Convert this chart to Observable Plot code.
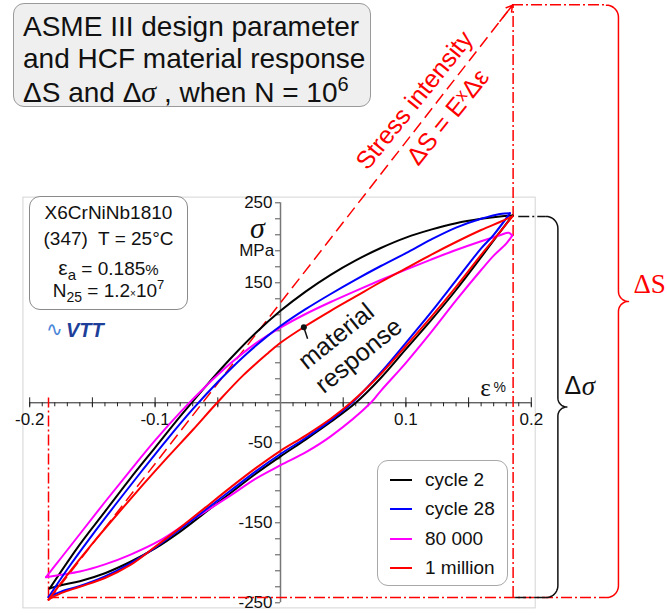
<!DOCTYPE html>
<html><head><meta charset="utf-8">
<script src="https://cdn.jsdelivr.net/npm/d3@7"></script>
<script src="https://cdn.jsdelivr.net/npm/@observablehq/plot@0.6"></script>
<style>
body{margin:0;background:#fff;font-family:"Liberation Sans",Arial,sans-serif;color:#111}
#wrap{position:relative;width:667px;height:615px;overflow:hidden}
#wrap svg{position:absolute;left:0;top:0}
.box{position:absolute;box-sizing:border-box;border:1.5px solid #999;border-radius:11px;background:#fff}
.ln{position:absolute;white-space:nowrap;line-height:1}
sub,sup{line-height:0;font-size:68%}
</style></head>
<body><div id="wrap"></div>
<script>
// ---- data (strain in %, stress in MPa) ----
const seriesNames = ["cycle 2", "cycle 28", "80 000", "1 million"];
const seriesColors = ["#000000", "#0000ff", "#ff00ff", "#ff0000"];

const cycle2Upper = [[-0.184,-232],[-0.16,-177],[-0.14,-136],[-0.12,-95],[-0.10,-56],[-0.08,-17],[-0.06,20],[-0.04,55],[-0.02,87],[0,115],[0.02,139],[0.04,160],[0.06,178],[0.08,193.5],[0.10,206.5],[0.12,216.5],[0.14,224.5],[0.16,230],[0.175,233],[0.185,234]];
const cycle2Lower = [[-0.184,-232],[-0.175,-228],[-0.16,-223],[-0.14,-213],[-0.12,-199],[-0.10,-182],[-0.08,-161],[-0.06,-137],[-0.04,-113],[-0.02,-89],[0,-67],[0.02,-46],[0.04,-24],[0.06,0],[0.08,31],[0.10,67],[0.12,103],[0.14,141],[0.16,182],[0.17,203],[0.185,234]];
const cycle28Upper = [[-0.185,-243],[-0.17,-208],[-0.15,-165],[-0.13,-124],[-0.11,-84],[-0.09,-45],[-0.07,-8],[-0.05,26],[-0.03,57],[-0.01,84],[0,96],[0.02,117],[0.04,136],[0.06,154],[0.08,171],[0.10,187],[0.12,204],[0.14,219],[0.16,230],[0.175,236],[0.183,237]];
const cycle28Lower = [[-0.185,-243],[-0.175,-236],[-0.16,-229],[-0.14,-217],[-0.12,-201],[-0.10,-181],[-0.08,-158],[-0.06,-134],[-0.04,-110],[-0.02,-86],[0,-64],[0.02,-44],[0.04,-22],[0.057,0],[0.08,38],[0.10,75],[0.12,113],[0.14,153],[0.16,193],[0.17,210],[0.183,237]];
const n80kUpper = [[-0.187,-218],[-0.175,-194],[-0.16,-164],[-0.14,-124],[-0.12,-85],[-0.10,-47],[-0.08,-12],[-0.06,20],[-0.04,49],[-0.02,74],[0,94],[0.02,111],[0.04,126],[0.06,140],[0.08,153.5],[0.10,166.5],[0.12,179],[0.14,191],[0.16,202],[0.175,209.5],[0.182,212.5],[0.1848,209]];
const n80kLower = [[-0.187,-218],[-0.175,-215],[-0.16,-211],[-0.14,-202],[-0.12,-190],[-0.096,-172],[-0.08,-156],[-0.06,-136],[-0.04,-116],[-0.02,-95],[0,-78],[0.02,-62],[0.04,-42],[0.072,0],[0.08,15],[0.10,50],[0.12,88],[0.14,128],[0.16,166],[0.17,184],[0.18,199],[0.1848,209]];
const millionUpper = [[-0.185,-246],[-0.17,-215],[-0.15,-176],[-0.13,-139],[-0.11,-103],[-0.09,-68],[-0.07,-34],[-0.05,1],[-0.03,34],[-0.01,62],[0,75],[0.02,96],[0.04,115],[0.06,133],[0.08,151],[0.10,168],[0.12,185],[0.14,201],[0.16,216],[0.175,226],[0.185,233]];
const millionLower = [[-0.185,-246],[-0.175,-238],[-0.16,-230],[-0.14,-219],[-0.12,-203],[-0.10,-180],[-0.08,-156],[-0.06,-131],[-0.04,-106],[-0.02,-82],[0,-60],[0.02,-41],[0.04,-20],[0.056,0],[0.08,36],[0.10,71],[0.12,107],[0.14,145],[0.16,185],[0.17,204],[0.185,233]];

const xTickLabels = [-0.2, -0.1, 0.1, 0.2];
const xMajorTicks = [-0.2, -0.15, -0.1, -0.05, 0.05, 0.1, 0.15, 0.2];
const yTickLabels = [250, 150, -50, -150, -250];

const strainAmp = 0.185;        // %
const stressRangeTop = 233;     // sigma max, MPa
const stressRangeBottom = -243.5;
const deltaSTop = 497;          // E x strain range line end, MPa
const deltaSBottom = -247;

// ---- build table ----
const loops = [
  [seriesNames[0], cycle2Upper, cycle2Lower],
  [seriesNames[2], n80kUpper, n80kLower],
  [seriesNames[1], cycle28Upper, cycle28Lower],
  [seriesNames[3], millionUpper, millionLower]
];
const rows = [];
for (const [name, up, lo] of loops) {
  for (const [x, y] of up) rows.push({series: name, key: name + "u", x, y});
  for (const [x, y] of lo) rows.push({series: name, key: name + "l", x, y});
}

// ---- scales: pixel geometry of the original ----
const W = 667, H = 615;
const X0 = -280/1254, X1 = (W-280)/1254;
const Y0 = (402.3-H)/0.8, Y1 = 402.3/0.8;
const PX = 1/1254, PY = 1/0.8; // data units per pixel

function brace(xv, yTop, yBot, rc, rm) {
  const pts = [];
  const mid = (yTop + yBot) / 2;
  const arc = (cx, cy, r, a0, a1) => {
    for (let k = 0; k <= 10; k++) {
      const a = (a0 + (a1 - a0) * k / 10) * Math.PI / 180;
      pts.push([cx + r * PX * Math.cos(a), cy + r * PY * Math.sin(a)]);
    }
  };
  arc(xv - rc*PX, yTop - rc*PY, rc, 90, 0);
  arc(xv + rm*PX, mid + rm*PY, rm, 180, 270);
  arc(xv + rm*PX, mid - rm*PY, rm, 90, 180);
  arc(xv - rc*PX, yBot + rc*PY, rc, 0, -90);
  return pts;
}
const braceS = brace(0.2695, deltaSTop, stressRangeBottom, 12, 10);
const braceSig = brace(0.2212, stressRangeTop, stressRangeBottom, 12, 9);

const sans = "Liberation Sans, Arial, sans-serif";
const serif = "Liberation Serif, Times New Roman, serif";
const dashDot = "11,3,2,3";
const red = "#ff0000";

const xMinor = d3.range(-20, 21).map(i => i / 100).filter(v => Math.abs(v) > 1e-9);
const yMinor = d3.range(0, 26).map(i => 250 - 20 * i);

const chart = Plot.plot({
  width: W, height: H, margin: 0,
  x: {domain: [X0, X1], axis: null},
  y: {domain: [Y0, Y1], axis: null},
  style: {fontFamily: sans, background: "transparent", overflow: "visible"},
  marks: [
    Plot.rect([0], {x1: -0.205, x2: 0.2035, y1: -257, y2: 256.5, stroke: "#d4d4d4", fill: "none", strokeWidth: 1}),
    Plot.ruleY([0], {x1: -0.2, x2: 0.2, stroke: "#222", strokeWidth: 1}),
    Plot.ruleX([0], {y1: -250, y2: 250, stroke: "#777", strokeWidth: 1.5}),
    Plot.ruleX(xMinor, {x: d => d, y1: 0, y2: 0, insetTop: 0, insetBottom: -4, stroke: "#222"}),
    Plot.ruleX(xMajorTicks, {x: d => d, y1: 0, y2: 0, insetTop: -5, insetBottom: -5, stroke: "#222"}),
    Plot.ruleY(yMinor, {y: d => d, x1: 0, x2: 0, insetLeft: -5, insetRight: 0, stroke: "#555"}),
    Plot.text(xTickLabels, {x: d => d, y: 0, dy: 17, text: d => String(d), fontSize: 17, fill: "#111"}),
    Plot.text(yTickLabels, {x: 0, y: d => d, dx: -8, text: d => String(d), textAnchor: "end", fontSize: 17, fill: "#111"}),
    Plot.text(["σ"], {x: -0.0185, y: 218, text: d => d, fontSize: 30, fontStyle: "italic", fontFamily: serif, fill: "#111"}),
    Plot.text(["MPa"], {x: -0.019, y: 190, text: d => d, fontSize: 17, fill: "#111"}),
    Plot.text(["ε"], {x: 0.1635, y: 19, text: d => d, fontSize: 25, fontFamily: serif, fill: "#111"}),
    Plot.text(["%"], {x: 0.1748, y: 19, text: d => d, fontSize: 14, fill: "#111"}),
    Plot.ruleX([-strainAmp], {x: d => d, y1: deltaSBottom + 3, y2: 6, stroke: red, strokeWidth: 1.5, strokeDasharray: dashDot}),
    Plot.ruleX([strainAmp + 0.0005], {x: d => d, y1: stressRangeBottom, y2: deltaSTop, stroke: red, strokeWidth: 1.5, strokeDasharray: dashDot}),
    Plot.ruleY([stressRangeBottom], {y: d => d, x1: -strainAmp, x2: 0.2599, stroke: red, strokeWidth: 1.5, strokeDasharray: dashDot}),
    Plot.ruleY([deltaSTop + 0.5], {y: d => d, x1: strainAmp, x2: 0.2599, stroke: red, strokeWidth: 1.5, strokeDasharray: dashDot}),
    Plot.link([0], {x1: -strainAmp, y1: deltaSBottom, x2: strainAmp - 0.004, y2: deltaSTop - 8, stroke: red, strokeWidth: 1.5, strokeDasharray: "12,6"}),
    Plot.arrow([0], {x1: strainAmp - 0.01, y1: deltaSTop - 20, x2: strainAmp, y2: deltaSTop, stroke: red, strokeWidth: 1.5, headLength: 12}),
    Plot.ruleY([stressRangeTop], {y: d => d, x1: 0.19, x2: 0.2117, stroke: "#111", strokeWidth: 1.5, strokeDasharray: dashDot}),
    Plot.ruleY([stressRangeBottom], {y: d => d, x1: 0.1875, x2: 0.2117, stroke: "#111", strokeWidth: 1.5, strokeDasharray: dashDot}),
    Plot.line(braceS, {x: d => d[0], y: d => d[1], stroke: red, strokeWidth: 1.5}),
    Plot.line(braceSig, {x: d => d[0], y: d => d[1], stroke: "#111", strokeWidth: 1.5}),
    Plot.text(["ΔS"], {x: 0.2815, y: 148, text: d => d, textAnchor: "start", fontSize: 27, fontFamily: serif, fill: red}),
    Plot.text(["Δ"], {x: 0.2265, y: 21, text: d => d, textAnchor: "start", fontSize: 25, fill: "#111"}),
    Plot.text(["σ"], {x: 0.2403, y: 21, text: d => d, textAnchor: "start", fontSize: 27, fontStyle: "italic", fontFamily: serif, fill: "#111"}),
    Plot.text(["Stress intensity"], {x: 0.1069, y: 378, text: d => d, rotate: -51, fontSize: 25, fill: red}),
    Plot.text(["ΔS = E\u02E3Δε"], {x: 0.1336, y: 357, text: d => d, rotate: -51, fontSize: 25, fill: red}),
    Plot.line(rows, {x: "x", y: "y", z: "key", stroke: "series", strokeWidth: 2, curve: "catmull-rom"}),
    Plot.link([0], {x1: 0.0186, y1: 94.5, x2: 0.0216, y2: 80, stroke: "#111", strokeWidth: 1.5}),
    Plot.dot([0], {x: 0.0186, y: 94.5, r: 3, fill: "#111"}),
    Plot.text(["material"], {x: 0.0444, y: 83, text: d => d, rotate: -39, fontSize: 25, fill: "#111"}),
    Plot.text(["response"], {x: 0.0624, y: 59, text: d => d, rotate: -39, fontSize: 25, fill: "#111"})
  ],
  color: {domain: seriesNames, range: seriesColors}
});
const wrap = document.getElementById("wrap");
wrap.appendChild(chart);

function add(html) { wrap.insertAdjacentHTML("beforeend", html); }
add(`<div class="box" style="left:13px;top:3px;width:358px;height:104px;background:#efefef;border-color:#9a9a9a"></div>
<div class="ln" style="left:23px;top:12.8px;font-size:28px">ASME III design parameter</div>
<div class="ln" style="left:23px;top:44.8px;font-size:28px">and HCF material response</div>
<div class="ln" style="left:23px;top:76.8px;font-size:28px">ΔS and Δ<i style="font-family:'Liberation Serif',serif;font-size:30px">σ</i> , when N = 10<sup style="font-size:20px;vertical-align:11px">6</sup></div>`);

add(`<div class="box" style="left:29px;top:196px;width:159px;height:114px;border-color:#8a8a8a"></div>
<div class="ln" style="left:29px;width:159px;text-align:center;top:203px;font-size:19px">X6CrNiNb1810</div>
<div class="ln" style="left:29px;width:159px;text-align:center;top:229px;font-size:19px">(347)&nbsp; T = 25°C</div>
<div class="ln" style="left:29px;width:159px;text-align:center;top:257px;font-size:19px"><span style="font-size:21px">ε</span><sub style="font-size:15px;vertical-align:-5px">a</sub> = 0.185<span style="font-size:15px">%</span></div>
<div class="ln" style="left:29px;width:159px;text-align:center;top:281px;font-size:19px">N<sub style="font-size:14px;vertical-align:-5px">25</sub> = 1.2<span style="font-size:10px">×</span>10<sup style="font-size:13px;vertical-align:8px">7</sup></div>`);

add(`<div class="ln" style="left:46px;top:319px;font-size:20px;color:#4a86d8">∿</div>
<div class="ln" style="left:66px;top:320px;font-size:20px;font-weight:900;font-style:italic;color:#1d3f9a;letter-spacing:0px">VTT</div>`);

let leg = `<div class="box" style="left:377px;top:460px;width:131px;height:126px;border-color:#a8a8a8"></div>`;
seriesNames.forEach((n, i) => {
  const cy = 480 + i * 29.3;
  leg += `<div style="position:absolute;left:390px;top:${cy - 1}px;width:22px;height:2px;background:${seriesColors[i]}"></div>`;
  leg += `<div class="ln" style="left:425px;top:${cy - 10}px;font-size:19px">${n}</div>`;
});
add(leg);
</script>
</body></html>
